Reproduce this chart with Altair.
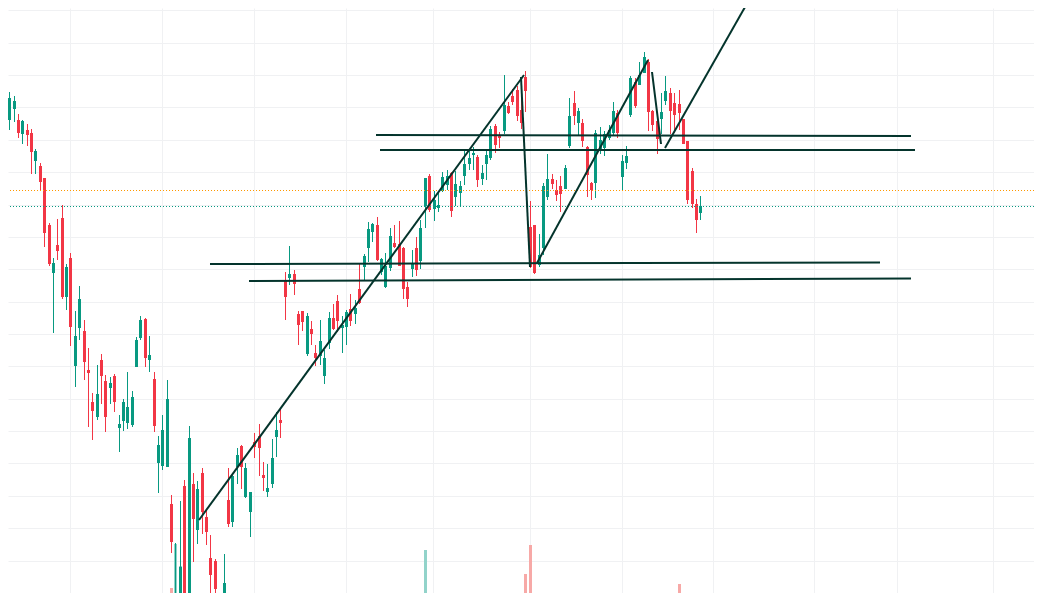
import pandas as pd
import altair as alt

# candles, one entry per bar (price units are arbitrary)
opens = [541, 498, 481, 492, 481, 467, 471, 468, 440, 435,
         423, 376, 328, 356, 383, 304, 343, 235, 273, 270,
         231, 199, 184, 241, 220, 213, 225, 173, 180, 178,
         176, 234, 263, 282, 241, 222, 138, 135, 134, 97,
         -19, -9, 115, 8, 117, 71, 128, 84, 43, 40,
         -10, -9, 101, 79, 134, 155, 104, 89, 159, 165,
         126, 109, 117, 164, 181, 321, 323, 327, 287, 290,
         247, 272, 248, 245, 225, 258, 283, 300, 273, 274,
         292, 287, 312, 334, 353, 369, 376, 329, 314, 333,
         358, 357, 353, 314, 332, 353, 340, 395, 425, 392,
         393, 410, 416, 428, 404, 408, 425, 437, 446, 444,
         422, 437, 443, 475, 465, 470, 495, 505, 511, 491,
         524, 374, 376, 336, 353, 404, 422, 411, 415, 412,
         455, 498, 478, 478, 454, 418, 418, 452, 453, 463,
         468, 488, 424, 438, 486, 519, 516, 528, 539, 490,
         480, 482, 500, 508, 498, 497, 482, 460, 430, 397,
         388]
highs = [556, 516, 509, 505, 487, 481, 477, 472, 452, 438,
         423, 378, 343, 382, 396, 337, 348, 290, 315, 281,
         253, 208, 236, 247, 226, 224, 227, 186, 202, 229,
         210, 264, 285, 283, 265, 229, 165, 186, 221, 106,
         58, 100, 121, 175, 128, 120, 133, 91, 66, 42,
         -5, 47, 133, 126, 153, 156, 138, 109, 168, 177,
         139, 137, 162, 189, 192, 329, 355, 331, 290, 290,
         288, 280, 256, 281, 251, 289, 297, 306, 285, 291,
         307, 301, 338, 347, 379, 378, 384, 343, 348, 373,
         376, 380, 354, 319, 351, 364, 381, 423, 427, 410,
         409, 429, 431, 429, 430, 420, 451, 450, 454, 446,
         436, 451, 475, 477, 469, 526, 499, 512, 515, 520,
         530, 400, 376, 367, 418, 447, 427, 421, 425, 436,
         503, 510, 493, 482, 455, 419, 471, 474, 470, 476,
         499, 491, 446, 455, 525, 523, 539, 549, 542, 491,
         485, 508, 525, 513, 508, 511, 482, 460, 433, 402,
         405]
lows = [526, 462, 471, 479, 463, 457, 455, 427, 427, 411,
        354, 335, 268, 341, 302, 291, 255, 214, 261, 221,
        174, 161, 181, 197, 169, 197, 189, 149, 170, 172,
        174, 234, 261, 234, 229, 169, 108, 131, 134, 48,
        -19, -19, -19, -5, 39, 57, 67, 56, 3, 8,
        -25, -19, 74, 74, 117, 112, 103, 64, 143, 125,
        110, 104, 113, 144, 163, 281, 316, 306, 256, 270,
        245, 256, 235, 236, 217, 252, 271, 269, 248, 256,
        275, 277, 297, 320, 339, 359, 340, 326, 313, 330,
        353, 335, 302, 294, 324, 325, 332, 373, 389, 380,
        389, 409, 411, 384, 395, 394, 416, 431, 431, 414,
        416, 421, 441, 448, 453, 467, 487, 496, 480, 472,
        489, 333, 327, 334, 346, 401, 412, 400, 389, 412,
        453, 476, 466, 454, 404, 401, 403, 447, 445, 461,
        466, 463, 411, 432, 484, 493, 516, 528, 470, 470,
        447, 467, 496, 467, 468, 471, 457, 397, 393, 368,
        381]
closes = [549, 470, 503, 500, 468, 480, 466, 449, 450, 419,
          368, 337, 338, 350, 304, 334, 274, 265, 302, 239,
          228, 190, 207, 225, 184, 218, 199, 177, 199, 194,
          204, 261, 281, 243, 246, 175, 156, 171, 202, 59,
          -4, 34, -9, 163, 82, 112, 89, 69, 26, 12,
          -20, 18, 77, 125, 146, 134, 133, 109, 154, 153,
          123, 113, 143, 171, 178, 304, 327, 317, 276, 279,
          285, 267, 243, 260, 243, 283, 272, 280, 276, 289,
          280, 293, 298, 345, 372, 377, 341, 342, 335, 365,
          354, 335, 312, 302, 338, 331, 373, 423, 391, 401,
          396, 424, 425, 390, 417, 415, 437, 443, 448, 421,
          428, 446, 472, 456, 463, 496, 488, 499, 485, 478,
          510, 334, 328, 346, 415, 422, 417, 406, 407, 433,
          485, 485, 490, 460, 426, 411, 468, 461, 467, 471,
          490, 468, 440, 445, 523, 495, 526, 544, 489, 476,
          462, 489, 510, 490, 486, 488, 457, 401, 397, 381,
          395]

# the few volume bars that reach into the view
vol_bars = [39, 40, 41, 43, 97, 120, 121, 155]
vol_values = [13, 57, 35, 8, 51, 27, 56, 17]

# hand drawn trend lines: start bar, start price, end bar, end price
trend_x = [45.4, 119.0, 122.6, 148.9, 151.9, 85.84, 86.76, 47.9, 56.8]
trend_y = [81, 524, 338, 529, 453, 466, 451, 337, 320]
trend_x2 = [119.7, 121.05, 148.1, 150.9, 171.2, 208.1, 209.05, 201.05, 208.1]
trend_y2 = [526, 334, 541, 457, 601, 465, 451, 338.5, 322.5]

# price lines
orange_level = [410.5]
green_level = [394.5]

grid_x = [15.9, 36.93, 57.96, 78.99, 98.87, 121.05, 142.07, 162.87, 186.0, 204.93, 226.88]
grid_y = [591, 558, 526, 494, 461, 429, 396, 364, 332, 299, 267, 235, 202, 170, 138, 105, 73, 40]

UP = "#089981"
DOWN = "#F23645"
LINE = "#04342c"

candles = pd.DataFrame({"open": opens, "high": highs, "low": lows, "close": closes})
candles["bar"] = candles.index
candles["dir"] = ["up" if c >= o else "down" for o, c in zip(opens, closes)]

volume = pd.DataFrame({"bar": vol_bars, "vol": vol_values})
volume["dir"] = [candles.loc[b, "dir"] for b in vol_bars]

trends = pd.DataFrame({"x": trend_x, "y": trend_y, "x2": trend_x2, "y2": trend_y2})

x_scale = alt.Scale(domain=[1.731, 236.25], round=True, nice=False, zero=False, padding=0)
y_scale = alt.Scale(domain=[8, 593], nice=False, zero=False)
dir_color = alt.Color("dir:N", scale=alt.Scale(domain=["up", "down"], range=[UP, DOWN]), legend=None)
vol_color = alt.Color("dir:N", scale=alt.Scale(domain=["up", "down"], range=["#92d3ca", "#f7a9a7"]), legend=None)

x_axis = alt.Axis(values=grid_x, grid=True, gridColor="#f0f1f3", gridWidth=1, labels=False,
                  ticks=False, domain=False, title=None)
y_axis = alt.Axis(values=grid_y, grid=True, gridColor="#f0f1f3", gridWidth=1, labels=False,
                  ticks=False, domain=False, title=None)

# volume first, it sits behind the candles
vol_layer = alt.Chart(volume).mark_bar(size=3, xOffset=0.5, clip=True).encode(
    alt.X("bar:Q", scale=x_scale, axis=x_axis),
    alt.Y("vol:Q", scale=y_scale, axis=y_axis),
    vol_color,
)

wicks = alt.Chart(candles).mark_rule(strokeWidth=1, xOffset=0.5, clip=True).encode(
    alt.X("bar:Q", scale=x_scale, axis=x_axis),
    alt.Y("high:Q", scale=y_scale, axis=y_axis),
    alt.Y2("low:Q"),
    dir_color,
)

bodies = alt.Chart(candles).mark_bar(size=3, xOffset=0.5, clip=True).encode(
    alt.X("bar:Q", scale=x_scale, axis=x_axis),
    alt.Y("open:Q", scale=y_scale, axis=y_axis),
    alt.Y2("close:Q"),
    dir_color,
)

orange_line = alt.Chart(pd.DataFrame({"level": orange_level})).mark_rule(
    color="#FF9800", strokeWidth=1, strokeDash=[1, 2]
).encode(alt.Y("level:Q", scale=y_scale, axis=y_axis))

green_line = alt.Chart(pd.DataFrame({"level": green_level})).mark_rule(
    color=UP, strokeWidth=1, strokeDash=[1, 2]
).encode(alt.Y("level:Q", scale=y_scale, axis=y_axis))

lines = alt.Chart(trends).mark_rule(color=LINE, strokeWidth=2, clip=True).encode(
    alt.X("x:Q", scale=x_scale, axis=x_axis),
    alt.Y("y:Q", scale=y_scale, axis=y_axis),
    alt.X2("x2:Q"),
    alt.Y2("y2:Q"),
)

chart = alt.layer(vol_layer, wicks, bodies, orange_line, green_line, lines).resolve_scale(
    color="independent"
).properties(
    width=1026, height=585, padding=0, autosize="none", background="#ffffff"
).configure_view(stroke=None)

chart.save("out.html", embed_options={"renderer": "svg", "actions": False})
